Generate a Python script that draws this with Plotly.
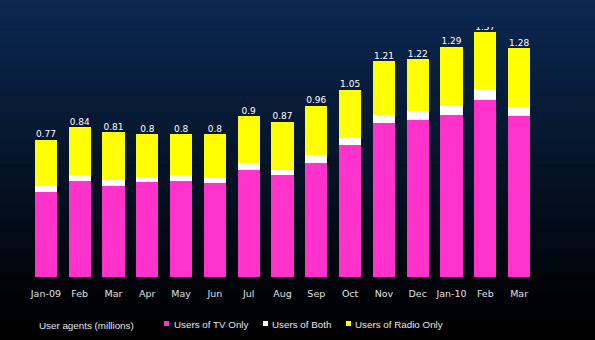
import plotly.graph_objects as go

# ---- data ----
months = ["Jan-09", "Feb", "Mar", "Apr", "May", "Jun", "Jul", "Aug",
          "Sep", "Oct", "Nov", "Dec", "Jan-10", "Feb", "Mar"]
totals = [0.77, 0.84, 0.81, 0.80, 0.80, 0.80, 0.90, 0.87,
          0.96, 1.05, 1.21, 1.22, 1.29, 1.37, 1.28]
tv_only = [0.477, 0.539, 0.511, 0.530, 0.539, 0.527, 0.598, 0.569,
           0.638, 0.738, 0.860, 0.882, 0.910, 0.990, 0.900]
both = [0.032, 0.030, 0.030, 0.030, 0.030, 0.030, 0.041, 0.031,
        0.043, 0.043, 0.050, 0.048, 0.050, 0.062, 0.052]
radio_only = [0.261, 0.271, 0.269, 0.240, 0.231, 0.243, 0.261, 0.270,
              0.279, 0.269, 0.300, 0.290, 0.330, 0.318, 0.328]
series_names = ["Users of TV Only", "Users of Both", "Users of Radio Only"]
axis_note = "User agents (millions)"

PINK = "#ff33cc"
WHITE = "#ffffff"
YELLOW = "#ffff00"

W, H = 595, 340
ML, MR, MT, MB = 29, 59, 27, 63
PW = W - ML - MR
PH = H - MT - MB


def px_x(x):
    return (x - ML) / PW


def px_y(y):
    return (H - MB - y) / PH


xs = list(range(len(months)))

fig = go.Figure()
for name, vals, col in zip(series_names, [tv_only, both, radio_only], [PINK, WHITE, YELLOW]):
    fig.add_trace(go.Bar(x=xs, y=vals, name=name, marker=dict(color=col, line=dict(width=0)),
                         showlegend=False))

fig.add_trace(go.Scatter(x=xs, y=totals, mode="text", text=[f"{v:g}" for v in totals],
                         textposition="top center",
                         textfont=dict(family="DejaVu Sans", size=9, color="#ffffff"),
                         showlegend=False, hoverinfo="skip"))

# background gradient (navy at top fading to black)
shapes = []
top = (11, 40, 82)
n = 70
for i in range(n):
    y0 = i * H / n
    y1 = (i + 1) * H / n + 0.6
    t = min(1.0, (i + 0.5) / n / 0.95)
    c = tuple(int(round(v * (1 - t))) for v in top)
    shapes.append(dict(type="rect", xref="paper", yref="paper", layer="below",
                       x0=px_x(0), x1=px_x(W), y0=px_y(y1), y1=px_y(y0),
                       fillcolor=f"rgb{c}", line=dict(width=0)))

# custom legend
legend_items = [(164, 171.5, PINK), (263, 270, WHITE), (346, 352.5, YELLOW)]
annotations = [dict(text=axis_note, xref="paper", yref="paper", x=px_x(37), y=px_y(325.5),
                    xanchor="left", yanchor="middle", showarrow=False,
                    font=dict(family="Liberation Sans", size=9.8, color="#e6e6e6"))]
for (sx, tx, col), name in zip(legend_items, series_names):
    shapes.append(dict(type="rect", xref="paper", yref="paper",
                       x0=px_x(sx), x1=px_x(sx + 5), y0=px_y(326), y1=px_y(321),
                       fillcolor=col, line=dict(width=0)))
    annotations.append(dict(text=name, xref="paper", yref="paper", x=px_x(tx), y=px_y(324.5),
                            xanchor="left", yanchor="middle", showarrow=False,
                            font=dict(family="Liberation Sans", size=9.8, color="#e6e6e6")))

fig.update_layout(
    width=W, height=H,
    margin=dict(l=ML, r=MR, t=MT, b=MB, pad=0),
    paper_bgcolor="#000000",
    plot_bgcolor="rgba(0,0,0,0)",
    barmode="stack",
    bargap=0.34,
    shapes=shapes,
    annotations=annotations,
    xaxis=dict(range=[-0.5, len(months) - 0.5], tickvals=xs, ticktext=months,
               showgrid=False, zeroline=False, showline=False, ticks="",
               ticklabelstandoff=9,
               tickfont=dict(family="DejaVu Sans", size=9.5, color="#e0e0e0"), fixedrange=True),
    yaxis=dict(range=[0, 1.4], visible=False, showgrid=False, zeroline=False),
    showlegend=False,
)

fig.write_html("out.html")
